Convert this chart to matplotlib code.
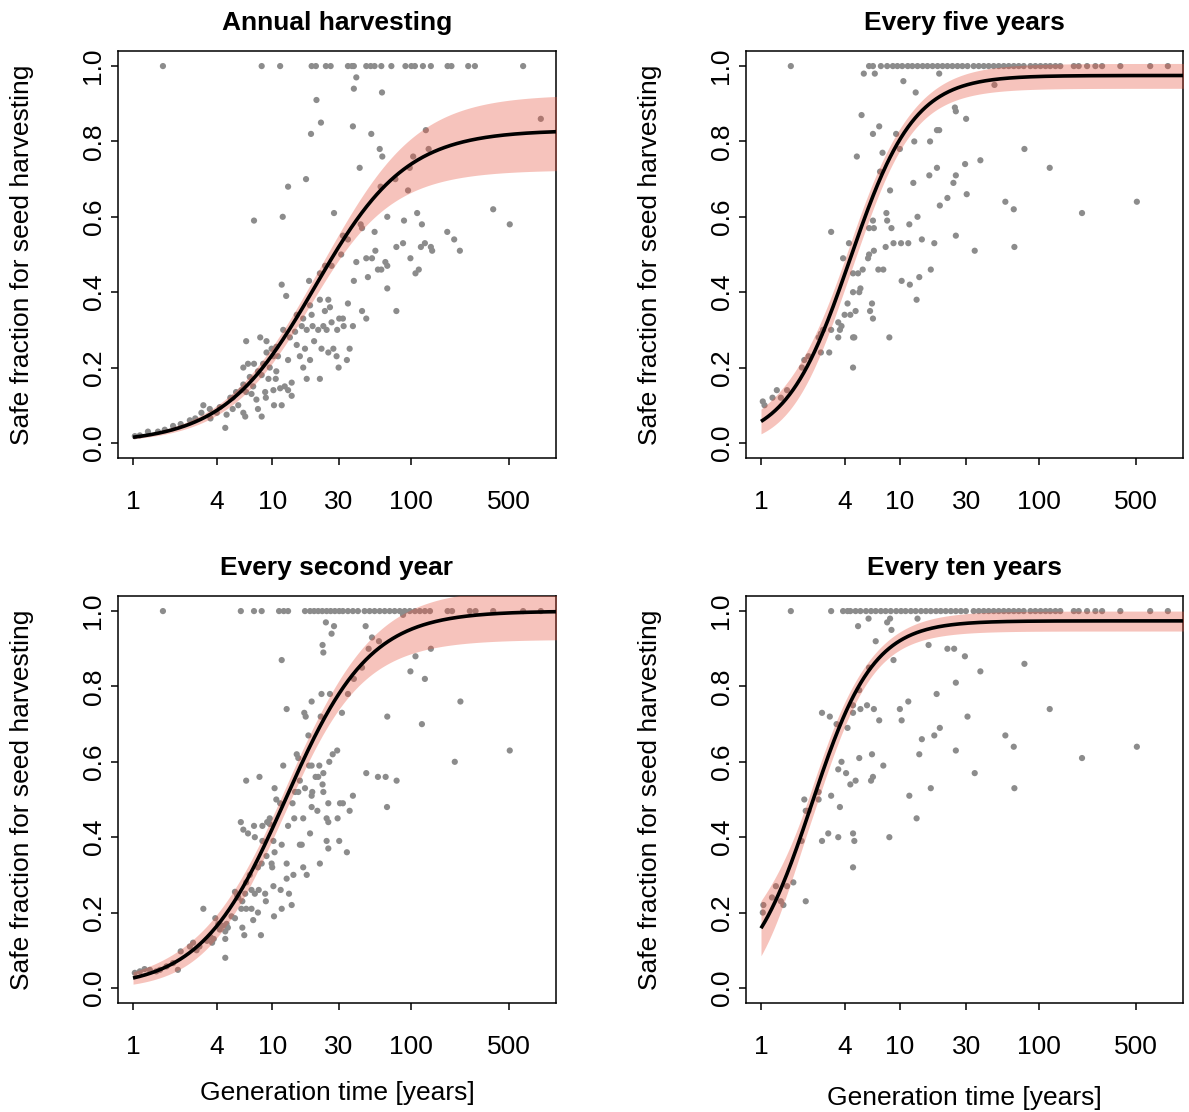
import numpy as np
import matplotlib
matplotlib.use("Agg")
import matplotlib.pyplot as plt

plt.rcParams['font.family'] = ['Liberation Sans', 'DejaVu Sans']

# ---------------- data (generation time [years], safe fraction) ----------------
titles = ["Annual harvesting", "Every five years", "Every second year", "Every ten years"]
xtick_vals = [1, 4, 10, 30, 100, 500]
ytick_vals = [0.0, 0.2, 0.4, 0.6, 0.8, 1.0]
ytick_labels = ["0.0", "0.2", "0.4", "0.6", "0.8", "1.0"]

# species with safe fraction = 1.0
annual_top_x = [1.64, 8.4, 11.4, 19.2, 20.6, 24.3, 26.3, 35, 37.4, 38.6, 47.4, 51, 54.4, 60.8,
                71.8, 90.6, 100, 106, 121, 138, 182, 194, 256, 286, 635]
annual_pts = [
    (20.8, 0.91), (22.4, 0.85), (19.0, 0.82), (17.5, 0.70), (13.0, 0.68), (7.4, 0.59), (11.9, 0.60),
    (27.8, 0.61), (11.7, 0.42), (12.6, 0.39), (18.4, 0.43), (22.0, 0.38), (26.0, 0.36), (23.9, 0.35),
    (19.2, 0.34), (16.7, 0.33), (19.5, 0.31), (23.3, 0.31), (26.7, 0.32), (30.3, 0.33), (17.7, 0.30),
    (21.4, 0.30), (24.6, 0.30), (12.0, 0.30), (6.5, 0.27), (8.2, 0.28), (20.0, 0.27), (22.6, 0.25),
    (25.3, 0.24), (15.0, 0.26), (17.2, 0.25), (15.8, 0.23), (18.7, 0.22), (13.0, 0.22), (11.0, 0.23),
    (16.7, 0.20), (30.0, 0.20), (9.1, 0.24), (10.2, 0.23), (6.2, 0.20), (6.7, 0.21), (7.4, 0.21),
    (8.6, 0.21), (9.6, 0.20), (10.7, 0.19), (7.9, 0.19), (8.4, 0.18), (9.4, 0.17), (10.6, 0.17),
    (17.7, 0.17), (22.0, 0.17), (13.8, 0.16), (12.3, 0.15), (11.4, 0.145), (13.0, 0.14), (13.8, 0.125),
    (10.2, 0.14), (8.9, 0.135), (7.3, 0.15), (7.1, 0.13), (6.5, 0.135), (6.0, 0.14), (7.7, 0.115),
    (9.0, 0.12), (10.3, 0.10), (11.7, 0.10), (7.9, 0.09), (8.4, 0.07), (6.2, 0.08), (6.4, 0.07),
    (5.0, 0.12), (5.2, 0.09), (5.7, 0.10), (4.6, 0.04), (4.7, 0.075), (4.2, 0.095), (4.0, 0.08),
    (3.6, 0.065), (3.2, 0.10), (3.1, 0.08), (2.8, 0.065), (2.56, 0.06), (2.2, 0.05), (1.94, 0.045),
    (1.69, 0.035), (1.51, 0.03), (1.28, 0.03), (1.12, 0.02), (1.03, 0.018), (3.56, 0.09), (5.2, 0.12),
    (5.5, 0.135), (6.2, 0.155), (6.9, 0.175), (9.1, 0.27), (9.9, 0.25), (10.7, 0.255), (13.4, 0.28),
    (14.6, 0.295), (16.3, 0.31), (15.0, 0.34), (18.7, 0.365), (22.0, 0.45), (24.0, 0.47), (26.7, 0.47),
    (25.3, 0.38), (27.5, 0.25), (29.0, 0.23),
    (40.2, 0.97), (38.6, 0.94), (61.5, 0.93), (38, 0.84), (51.5, 0.82), (127, 0.83), (59.2, 0.78),
    (61.8, 0.76), (133, 0.78), (103, 0.76), (42.5, 0.73), (97.3, 0.73), (76.7, 0.70), (60.1, 0.68),
    (94.6, 0.67), (851, 0.86), (387, 0.62), (509, 0.58), (67.1, 0.60), (110, 0.61), (88.5, 0.59),
    (119, 0.58), (43.2, 0.58), (44.2, 0.57), (54.4, 0.56), (181, 0.56), (203, 0.54), (223, 0.51),
    (32.2, 0.55), (35, 0.54), (31.3, 0.50), (40.2, 0.48), (47.4, 0.49), (52.1, 0.49), (55.1, 0.51),
    (65, 0.48), (57.5, 0.46), (60.8, 0.46), (67.1, 0.47), (78, 0.52), (87.1, 0.53), (98.4, 0.49),
    (117, 0.52), (125, 0.53), (138, 0.52), (141, 0.51), (107, 0.45), (113, 0.46), (48.7, 0.44),
    (38.6, 0.43), (67.1, 0.41), (35, 0.37), (44.2, 0.35), (47.4, 0.33), (78, 0.35), (32.2, 0.33),
    (29.3, 0.30), (32.6, 0.31), (38, 0.31), (36, 0.25), (34.4, 0.22),
]

five_top_x = [1.64, 6.0, 6.4, 7.3, 8.1, 8.9, 9.6, 10.4, 11.4, 12.3, 13.4, 14.6, 15.8, 17.2, 18.7,
              20.3, 22, 23.9, 26, 28.2, 30.7, 34, 37, 40.2, 43.6, 47.4, 51.5, 56, 60.8, 66.1, 71.8,
              78, 87.1, 94.6, 103, 112, 121, 132, 143, 179, 194, 223, 256, 286, 387, 635, 851]
five_pts = [
    (5.5, 0.98), (6.6, 0.98), (19.2, 0.98), (10.6, 0.96), (13, 0.93), (24.9, 0.89), (25.3, 0.88),
    (30, 0.86), (5.3, 0.87), (7.1, 0.84), (6.4, 0.82), (9.4, 0.82), (18.5, 0.83), (19.2, 0.83),
    (12.7, 0.80), (16.5, 0.80), (10, 0.78), (7.5, 0.77), (4.9, 0.76), (29.5, 0.74), (18.5, 0.73),
    (7.2, 0.72), (16.3, 0.71), (25.3, 0.71), (12.5, 0.69), (24.3, 0.69), (30.3, 0.66), (8.5, 0.67),
    (22, 0.65), (19.4, 0.63), (8.0, 0.61), (13.4, 0.60), (6.4, 0.59), (8.1, 0.59), (11.7, 0.58),
    (6.0, 0.57), (6.5, 0.57), (8.7, 0.57), (3.2, 0.56), (14.4, 0.54), (25.3, 0.55), (4.3, 0.53),
    (9.0, 0.53), (10.2, 0.53), (11.5, 0.53), (17.7, 0.53), (7.9, 0.52), (6.5, 0.51), (6.0, 0.50),
    (5.9, 0.49), (3.9, 0.49), (5.4, 0.46), (5.0, 0.45), (4.6, 0.45), (7.0, 0.46), (7.6, 0.46),
    (16.7, 0.46), (13.8, 0.44), (10.3, 0.43), (11.8, 0.42), (5.2, 0.41), (5.1, 0.40), (4.6, 0.40),
    (13.2, 0.38), (4.2, 0.37), (6.3, 0.37), (4.8, 0.35), (4.0, 0.34), (4.4, 0.34), (6.1, 0.35),
    (6.4, 0.33), (3.6, 0.32), (3.8, 0.31), (3.7, 0.30), (3.2, 0.30), (2.8, 0.30), (2.7, 0.29),
    (3.6, 0.28), (2.6, 0.28), (4.6, 0.28), (4.7, 0.28), (8.4, 0.28), (2.7, 0.24), (3.1, 0.24),
    (2.2, 0.23), (2.05, 0.22), (1.97, 0.20), (4.6, 0.20), (1.54, 0.14), (1.30, 0.14), (1.21, 0.12),
    (1.39, 0.12), (1.03, 0.11), (1.06, 0.10),
    (48, 0.95), (78.9, 0.78), (38, 0.75), (120, 0.73), (57.5, 0.64), (66.1, 0.62), (205, 0.61),
    (509, 0.64), (34.6, 0.51), (66.8, 0.52),
]

second_top_x = [1.64, 5.95, 7.4, 8.4, 11.2, 12.1, 13, 17.2, 18.7, 20, 21.4, 22.9, 24.6, 26.3, 28.2,
                30.3, 32.2, 35, 38, 41.3, 46.1, 50.1, 54.4, 59.2, 64.3, 69.8, 75.8, 82.4, 89.5, 97.3,
                106, 115, 125, 136, 182, 196, 263, 289, 387, 635, 851]
second_pts = [
    (24.3, 0.97), (27.8, 0.96), (26.7, 0.94), (23, 0.91), (23.3, 0.89), (11.7, 0.87), (22.6, 0.78),
    (26, 0.78), (12.7, 0.74), (19.2, 0.76), (17, 0.73), (17.4, 0.72), (22.3, 0.72), (18.2, 0.67),
    (27.2, 0.62), (25.7, 0.60), (15, 0.62), (15.4, 0.61), (12, 0.59), (18.4, 0.59), (19.2, 0.59),
    (21.8, 0.59), (20.5, 0.56), (23.3, 0.57), (21.4, 0.56), (6.5, 0.55), (8.1, 0.56), (15.8, 0.55),
    (23, 0.54), (10.4, 0.53), (17.2, 0.53), (14.6, 0.52), (15.4, 0.52), (19.4, 0.52), (19.2, 0.51),
    (23.3, 0.52), (10.7, 0.50), (11.4, 0.49), (14, 0.49), (19.2, 0.48), (21.1, 0.47), (25.3, 0.49),
    (30.7, 0.49), (16.7, 0.45), (24.6, 0.45), (25.3, 0.44), (29.5, 0.45), (5.95, 0.44), (6.2, 0.42),
    (6.7, 0.41), (7.4, 0.43), (7.5, 0.40), (8.5, 0.43), (9.2, 0.44), (9.6, 0.45), (9.6, 0.435),
    (13, 0.43), (14.4, 0.45), (8.5, 0.39), (10.2, 0.39), (18.7, 0.41), (16.3, 0.38), (15.8, 0.38),
    (24.6, 0.39), (25.3, 0.37), (30.3, 0.39), (9.1, 0.35), (11.7, 0.38), (10.4, 0.36), (8.4, 0.33),
    (9.9, 0.33), (12.7, 0.33), (22, 0.33), (16.7, 0.32), (7.9, 0.32), (6.9, 0.30), (6.5, 0.28),
    (12.7, 0.29), (14.2, 0.30), (17.7, 0.30), (5.4, 0.255), (5.6, 0.245), (6.4, 0.25), (7.1, 0.26),
    (7.5, 0.25), (8, 0.26), (8.9, 0.25), (10.2, 0.27), (11.5, 0.26), (13.2, 0.25), (6.1, 0.23),
    (9.0, 0.23), (6, 0.21), (6.5, 0.21), (7.1, 0.21), (7.9, 0.20), (11.7, 0.21), (13.8, 0.22),
    (10.3, 0.19), (3.2, 0.21), (3.9, 0.185), (4.1, 0.17), (4.4, 0.165), (4.7, 0.17), (5.1, 0.19),
    (5.4, 0.185), (4.2, 0.155), (4.6, 0.15), (4.8, 0.16), (6.1, 0.16), (6.3, 0.14), (8.3, 0.14),
    (4.6, 0.13), (3.8, 0.13), (3.6, 0.135), (3.4, 0.125), (3.7, 0.12), (3.0, 0.11), (2.7, 0.12),
    (2.56, 0.11), (2.2, 0.097), (2.1, 0.048), (1.94, 0.066), (1.74, 0.057), (1.56, 0.048),
    (1.47, 0.044), (1.32, 0.048), (1.21, 0.05), (1.12, 0.044), (1.03, 0.04), (4.6, 0.08),
    (2.86, 0.10), (5.7, 0.24), (7.3, 0.18), (10, 0.32),
    (87.1, 0.99), (46.9, 0.96), (52.1, 0.93), (58.5, 0.92), (49.3, 0.90), (138, 0.90), (107, 0.88),
    (44.2, 0.85), (98.4, 0.84), (125, 0.82), (38.6, 0.82), (35, 0.78), (225, 0.76), (31.7, 0.73),
    (67.1, 0.72), (119, 0.70), (29.3, 0.63), (509, 0.63), (205, 0.60), (47.4, 0.57), (57.5, 0.56),
    (65.3, 0.56), (78.3, 0.55), (38, 0.51), (32.2, 0.49), (36, 0.47), (66.8, 0.48), (34.4, 0.36),
]

ten_top_x = [1.64, 3.2, 3.9, 4.2, 4.4, 4.8, 5.2, 5.7, 6.2, 6.7, 7.3, 7.9, 8.6, 9.4, 10.2, 11, 12, 13,
             14.2, 15.4, 16.7, 18.2, 19.7, 21.4, 23.3, 25.3, 27.5, 29.9, 34, 37, 40.2, 43.6, 47.4,
             51.5, 56, 60.8, 66.1, 71.8, 78, 87.1, 94.6, 103, 112, 121, 132, 143, 179, 194, 223,
             256, 286, 387, 635, 851]
ten_pts = [
    (5.95, 0.98), (5.0, 0.96), (8.1, 0.97), (8.5, 0.98), (13.4, 0.98), (8.7, 0.95), (6.7, 0.92),
    (16.1, 0.91), (22, 0.90), (24.6, 0.90), (29.4, 0.88), (9.0, 0.87), (6.0, 0.85), (25.3, 0.81),
    (5.1, 0.79), (18.4, 0.78), (11.5, 0.76), (4.6, 0.75), (5.8, 0.75), (2.75, 0.73), (4.6, 0.73),
    (5.2, 0.74), (6.5, 0.74), (10, 0.74), (3.13, 0.72), (7.1, 0.71), (10.3, 0.71), (30.7, 0.72),
    (3.5, 0.70), (4.2, 0.69), (19.4, 0.69), (17.7, 0.67), (14.4, 0.66), (25.3, 0.63), (13.8, 0.62),
    (6.3, 0.62), (5.1, 0.61), (3.8, 0.60), (7.6, 0.59), (3.6, 0.58), (4.1, 0.57), (6.4, 0.56),
    (6.2, 0.55), (4.8, 0.55), (4.4, 0.54), (16.7, 0.53), (2.6, 0.52), (3.2, 0.51), (11.7, 0.51),
    (2.05, 0.50), (2.6, 0.50), (3.7, 0.48), (2.1, 0.47), (2.2, 0.47), (13.2, 0.45), (3.05, 0.41),
    (2.75, 0.39), (3.6, 0.40), (4.6, 0.41), (4.7, 0.39), (8.4, 0.40), (1.96, 0.39), (4.6, 0.32),
    (1.71, 0.28), (1.54, 0.27), (1.28, 0.27), (1.2, 0.24), (1.39, 0.23), (1.45, 0.22), (1.04, 0.22),
    (1.03, 0.20), (2.1, 0.23),
    (38, 0.84), (78.9, 0.86), (120, 0.74), (57.5, 0.67), (66.1, 0.64), (509, 0.64), (205, 0.61),
    (34.6, 0.57), (66.8, 0.53),
]

# fitted logistic curves on log10(generation time): asymptote A, slope k, midpoint L0;
# confidence band: asymptote spread (dA_up / dA_lo) and logit-scale spread (e0, e2)
fit_annual = dict(A=0.83, k=3.05, L0=1.308, dA_up=0.095, dA_lo=0.105, p=3, e0=0.12, e2=0.09)
fit_five = dict(A=0.975, k=4.335, L0=0.641, dA_up=0.032, dA_lo=0.034, p=3, e0=0.16, e2=1.1)
fit_second = dict(A=1.0, k=3.3, L0=1.095, dA_up=0.06, dA_lo=0.075, p=3, e0=0.12, e2=0.43)
fit_ten = dict(A=0.974, k=4.5, L0=0.3643, dA_up=0.026, dA_lo=0.027, p=3, e0=0.165, e2=2.9)

# ---------------- figure ----------------
W, H = 1189, 1112
fig = plt.figure(figsize=(W / 100, H / 100), dpi=100)

FS = 19
point_color = '#8c8c8c'
band_color = '#e8543f'


def rect(l, r, t, b):
    return [l / W, 1 - b / H, (r - l) / W, (b - t) / H]


panels = [
    (titles[0], annual_top_x, annual_pts, fit_annual, (118, 556, 51, 458), None),
    (titles[1], five_top_x, five_pts, fit_five, (746, 1183, 51, 458), None),
    (titles[2], second_top_x, second_pts, fit_second, (118, 556, 596, 1003), 1093),
    (titles[3], ten_top_x, ten_pts, fit_ten, (746, 1183, 596, 1003), 1098),
]

for title, top_x, pts, fit, (l, r, t, b), xlab_y in panels:
    ax = fig.add_axes(rect(l, r, t, b))
    xs = list(top_x) + [p[0] for p in pts]
    ys = [1.0] * len(top_x) + [p[1] for p in pts]
    ax.scatter(xs, ys, s=20, color=point_color, edgecolors='none', zorder=2)

    L = np.linspace(0, 3.2, 500)
    s = 1 / (1 + np.exp(-fit['k'] * (L - fit['L0'])))
    curve = fit['A'] * s
    deta = fit['e0'] + fit['e2'] * np.clip(fit['L0'] - L, 0, None) ** 2
    logit_term = fit['A'] * s * (1 - s) * deta
    upper = curve + np.sqrt((fit['dA_up'] * s ** fit['p']) ** 2 + logit_term ** 2)
    lower = curve - np.sqrt((fit['dA_lo'] * s ** fit['p']) ** 2 + logit_term ** 2)
    gx = 10 ** L
    ax.fill_between(gx, lower, upper, color=band_color, alpha=0.35, linewidth=0, zorder=3)
    ax.plot(gx, curve, color='black', lw=2.6, zorder=4, solid_capstyle='butt')

    ax.set_xscale('log')
    ax.set_xlim(10 ** -0.108, 10 ** 3.039)
    ax.set_ylim(-0.04, 1.04)
    ax.set_xticks(xtick_vals)
    ax.set_xticklabels([str(v) for v in xtick_vals], fontsize=FS)
    ax.xaxis.set_minor_locator(matplotlib.ticker.NullLocator())
    ax.set_yticks(ytick_vals)
    ax.set_yticklabels(ytick_labels, fontsize=FS, rotation=90, va='center')
    ax.tick_params(axis='both', direction='out', length=5, width=1.1, color='black')
    ax.tick_params(axis='x', pad=18)
    ax.tick_params(axis='y', pad=4)
    for sp in ax.spines.values():
        sp.set_linewidth(1.1)

    cx = (l + r) / 2 / W
    fig.text(cx, 1 - (t - 28) / H, title, fontsize=FS, fontweight='bold', ha='center', va='center')
    fig.text(22 / W if l < 600 else (22 + 628) / W, 1 - (t + b) / 2 / H,
             "Safe fraction for seed harvesting", fontsize=FS, rotation=90,
             ha='center', va='center')
    if xlab_y is not None:
        fig.text(cx, 1 - xlab_y / H, "Generation time [years]", fontsize=FS,
                 ha='center', va='center')

fig.savefig("out.png", dpi=100)
